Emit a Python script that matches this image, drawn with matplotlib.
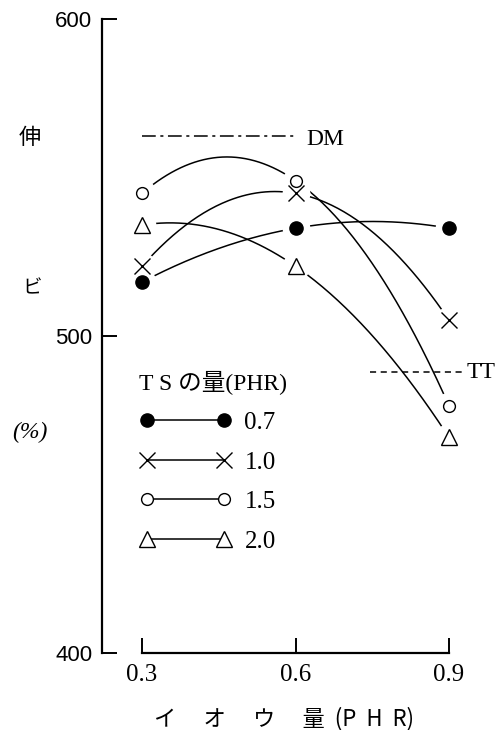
import numpy as np
import matplotlib.pyplot as plt
from matplotlib.lines import Line2D
from matplotlib.font_manager import FontProperties

# data
sulfur = [0.3, 0.6, 0.9]
ts_labels = ["0.7", "1.0", "1.5", "2.0"]
elong_07 = [517, 534, 534]
elong_10 = [522, 545, 505]
elong_15 = [545, 549, 478]
elong_20 = [535, 522, 468]
dm_level = 563
tt_level = 488.5
xticks = [0.3, 0.6, 0.9]
yticks = [400, 500, 600]

serif = ["Liberation Serif", "Noto Sans CJK JP"]
jp = ["Noto Sans CJK JP", "DejaVu Sans"]

fig = plt.figure(figsize=(5.04, 7.30), dpi=100)
ax = fig.add_axes([102/504, 77/730, 347/504, 634/730])
ax.set_xlim(0.2218, 0.9)
ax.set_ylim(400, 600)

series = [
    (elong_07, dict(marker="o", markersize=9.5, markerfacecolor="k", markeredgecolor="k")),
    (elong_10, dict(marker="x", markersize=11, markeredgewidth=1.0, color="k")),
    (elong_15, dict(marker="o", markersize=8.5, markerfacecolor="white", markeredgecolor="k", markeredgewidth=1.0)),
    (elong_20, dict(marker="^", markersize=11, markerfacecolor="white", markeredgecolor="k", markeredgewidth=1.0)),
]

xs = np.linspace(0.3, 0.9, 200)
handles = []
for (vals, mk), lab in zip(series, ts_labels):
    coef = np.polyfit(sulfur, vals, 2)
    ax.plot(xs, np.polyval(coef, xs), c="k", lw=1.1, zorder=2, clip_on=False)
    # white halo so the curves stop short of the markers
    ax.plot(sulfur, vals, ls="none", marker="o", markersize=19, markerfacecolor="white",
            markeredgecolor="white", zorder=2.5, clip_on=False)
    ax.plot(sulfur, vals, ls="none", zorder=3, clip_on=False, **mk)
    handles.append(Line2D([], [], ls="-", lw=1.1, color="k", label=lab,
                          **{k: v for k, v in mk.items() if k != "color"}))

# reference lines
ax.plot([0.3, 0.6], [dm_level, dm_level], c="k", lw=1.1, ls=(0, (9, 3, 2, 3)))
ax.text(0.622, dm_level - 1, "DM", fontsize=17, family=serif, va="center", ha="left")
ax.plot([0.746, 0.927], [tt_level, tt_level], c="k", lw=1.1, ls=(0, (4, 3)), clip_on=False)
ax.text(0.935, tt_level, "TT", fontsize=17, family=serif, va="center", ha="left")

leg = ax.legend(handles=handles, loc="upper left", bbox_to_anchor=(0.072, 0.465),
                frameon=False, numpoints=2, handlelength=3.7, handletextpad=0.5,
                labelspacing=0.68, borderpad=0, alignment="left",
                title="T S の量(PHR)",
                title_fontproperties=FontProperties(family=serif, size=17),
                prop=FontProperties(family=serif, size=18))

# axes styling
for s in ["top", "right"]:
    ax.spines[s].set_visible(False)
ax.spines["left"].set_linewidth(1.6)
ax.spines["bottom"].set_linewidth(1.6)
ax.spines["bottom"].set_bounds(0.3, 0.9)
ax.set_xticks(xticks)
ax.set_xticklabels(["0.3", "0.6", "0.9"], fontsize=18, family="Liberation Serif")
ax.set_yticks(yticks)
ax.set_yticklabels([str(v) for v in yticks], fontsize=16, family="Liberation Sans")
ax.tick_params(axis="both", direction="in", length=11, width=1.4)
ax.tick_params(axis="x", pad=8)
ax.tick_params(axis="y", pad=7)

ax.set_xlabel("イ　 オ　 ウ　 量  (P  H  R)", fontsize=16, family=jp)
ax.xaxis.set_label_coords(0.525, -0.085)

fig.text(30/504, 1 - 137/730, "伸", fontsize=16, family=jp, ha="center", va="center")
fig.text(32/504, 1 - 288/730, "ビ", fontsize=14, family=jp, ha="center", va="center")
fig.text(30/504, 1 - 432/730, "(%)", fontsize=17, family="Liberation Serif", style="italic",
         ha="center", va="center")

fig.savefig("out.png", dpi=100)
